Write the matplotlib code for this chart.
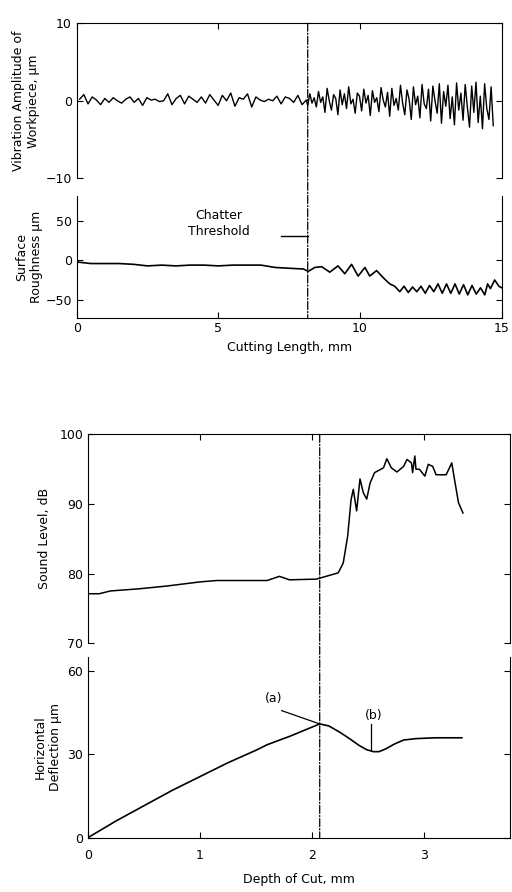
import numpy as np
import matplotlib.pyplot as plt
from matplotlib.patches import ConnectionPatch

plt.rcParams['font.family'] = ['DejaVu Sans']
plt.rcParams['font.size'] = 9

# ---- top pair: vibration amplitude and surface roughness vs cutting length ----
vib_pre = [0.2, 0.8, -0.4, 0.5, 0.1, -0.5, 0.3, -0.2, 0.4, 0.0, -0.3, 0.2, 0.5, -0.2,
           0.3, -0.6, 0.4, 0.1, 0.2, -0.1, 0.0, 0.9, -0.5, 0.3, 0.7, -0.4, 0.6, 0.2,
           -0.2, 0.5, -0.3, 0.8, 0.1, -0.6, 0.7, 0.0, 1.0, -0.7, 0.4, 0.2, 0.9, -0.8,
           0.5, 0.1, -0.1, 0.2, 0.0, 0.6, -0.4, 0.5, 0.3, -0.2, 0.7, -0.5, 0.1]
vib_post = [-0.6, 0.9, -0.3, 0.4, -0.8, 1.2, -0.2, 0.5, -1.5, 1.6, 0.0, -1.2, 0.8, 0.3,
            -1.8, 1.4, -0.5, 0.9, -1.0, 1.8, -0.4, 0.2, -1.6, 1.0, 0.6, -1.3, 1.5, -0.3,
            0.7, -1.9, 1.3, -0.2, 0.4, -1.4, 1.7, 0.1, -0.8, 1.1, -2.0, 1.6, -0.6, 0.3,
            -1.2, 2.0, -0.3, -1.8, 1.4, 0.2, -2.4, 1.8, -0.5, 0.6, -2.2, 2.1, -0.4, -1.0,
            1.5, -2.6, 1.9, 0.0, -1.6, 2.2, -2.9, 1.2, -0.7, 2.0, -2.3, 0.5, -3.1, 2.3,
            -1.2, 1.0, -2.5, 2.1, -0.8, -3.4, 1.9, -1.5, 2.4, -2.8, 0.6, -3.6, 2.2, -1.0,
            -2.4, 1.8, -3.2]
vib_x = np.concatenate([np.linspace(0.1, 8.1, len(vib_pre)),
                        np.linspace(8.15, 14.7, len(vib_post))])
vib_y = np.array(vib_pre + vib_post)

rough_x = [0.0, 0.5, 1.0, 1.5, 2.0, 2.5, 3.0, 3.5, 4.0, 4.5, 5.0, 5.5, 6.0, 6.5, 7.0,
           7.5, 8.0, 8.17, 8.4, 8.64, 8.93, 9.22, 9.46, 9.70, 9.93, 10.17, 10.34, 10.58,
           10.87, 11.05, 11.22, 11.4, 11.55, 11.7, 11.85, 12.0, 12.15, 12.3, 12.45,
           12.6, 12.75, 12.9, 13.05, 13.2, 13.35, 13.5, 13.65, 13.8, 13.95, 14.1,
           14.25, 14.4, 14.5, 14.6, 14.75, 14.9, 15.0]
rough_y = [-2, -4, -4, -4, -5, -7, -6, -7, -6, -6, -7, -6, -6, -6, -9,
           -10, -11, -14, -9, -8, -15, -7, -17, -5, -20, -9, -20, -13,
           -24, -30, -33, -40, -33, -41, -34, -40, -33, -42, -32,
           -40, -30, -42, -30, -42, -30, -43, -31, -44, -32, -43,
           -35, -44, -30, -36, -25, -33, -35]
chatter_len = 8.15

# ---- bottom pair: sound level and horizontal deflection vs depth of cut ----
sound_x = [0.0, 0.1, 0.2, 0.45, 0.7, 1.0, 1.15, 1.6, 1.71, 1.8, 2.04, 2.235, 2.28, 2.32,
           2.35, 2.37, 2.40, 2.43, 2.46, 2.49, 2.52, 2.56, 2.64, 2.67, 2.71, 2.76, 2.82,
           2.85, 2.89, 2.90, 2.92, 2.93, 2.96, 3.01, 3.04, 3.08, 3.11, 3.20, 3.25, 3.28,
           3.31, 3.35]
sound_y = [77.1, 77.1, 77.5, 77.8, 78.2, 78.8, 79.0, 79.0, 79.6, 79.1, 79.2, 80.1, 81.5,
           85.4, 90.6, 92.1, 89.0, 93.6, 91.6, 90.7, 93.0, 94.5, 95.2, 96.5, 95.2, 94.6,
           95.4, 96.4, 95.9, 94.5, 96.9, 95.0, 95.0, 94.0, 95.7, 95.4, 94.2, 94.2, 95.9,
           93.0, 90.2, 88.7]

defl_x = [0.0, 0.25, 0.5, 0.75, 1.0, 1.25, 1.5, 1.6, 1.8, 2.07, 2.15, 2.25, 2.34, 2.42,
          2.49, 2.55, 2.60, 2.66, 2.74, 2.82, 2.93, 3.1, 3.34]
defl_y = [0.0, 6.0, 11.5, 17.0, 22.0, 27.0, 31.5, 33.5, 36.5, 41.0, 40.3, 38.0, 35.6, 33.3,
          31.7, 31.0, 31.0, 32.0, 33.8, 35.2, 35.7, 36.0, 36.0]
chatter_depth = 2.07


def style(ax, top):
    ax.tick_params(direction='in', top=top, right=True, bottom=not top, length=4,
                   labelsize=9)
    ax.spines['bottom' if top else 'top'].set_visible(False)


fig = plt.figure(figsize=(5.12, 8.92), dpi=100)

ax1 = fig.add_axes([0.150, 0.800, 0.830, 0.174])
ax2 = fig.add_axes([0.150, 0.644, 0.830, 0.136])
ax3 = fig.add_axes([0.172, 0.279, 0.824, 0.234])
ax4 = fig.add_axes([0.172, 0.061, 0.824, 0.202])

ax1.plot(vib_x, vib_y, color='black', lw=1.0)
ax1.set_xlim(0, 15)
ax1.set_ylim(-10, 10)
ax1.set_yticks([-10, 0, 10])
ax1.set_xticks([0, 5, 10, 15])
ax1.set_xticklabels([])
ax1.set_ylabel('Vibration Amplitude of\nWorkpiece, μm', labelpad=4)
style(ax1, True)

ax2.plot(rough_x, rough_y, color='black', lw=1.2)
ax2.set_xlim(0, 15)
ax2.set_ylim(-73, 82)
ax2.set_yticks([-50, 0, 50])
ax2.set_xticks([0, 5, 10, 15])
ax2.set_xlabel('Cutting Length, mm')
ax2.set_ylabel('Surface\nRoughness μm', labelpad=2)
style(ax2, False)
ax2.text(5.0, 47, 'Chatter\nThreshold', ha='center', va='center', fontsize=9,
         linespacing=1.3)
ax2.plot([7.2, chatter_len], [31, 31], color='black', lw=1.0)

fig.add_artist(ConnectionPatch((chatter_len, 10), (chatter_len, -73), 'data', 'data',
                               axesA=ax1, axesB=ax2, color='black', lw=0.9,
                               linestyle='-.'))

ax3.plot(sound_x, sound_y, color='black', lw=1.1)
ax3.set_xlim(0, 3.77)
ax3.set_ylim(70, 100)
ax3.set_yticks([70, 80, 90, 100])
ax3.set_xticks([0, 1, 2, 3])
ax3.set_xticklabels([])
ax3.set_ylabel('Sound Level, dB', labelpad=6)
style(ax3, True)

ax4.plot(defl_x, defl_y, color='black', lw=1.2)
ax4.set_xlim(0, 3.77)
ax4.set_ylim(0, 65)
ax4.set_yticks([0, 30, 60])
ax4.set_xticks([0, 1, 2, 3])
ax4.tick_params(axis='x', pad=8)
ax4.set_xlabel('Depth of Cut, mm', labelpad=8)
ax4.set_ylabel('Horizontal\nDeflection μm', labelpad=4)
style(ax4, False)
ax4.text(1.66, 50, '(a)', ha='center', va='center', fontsize=9)
ax4.plot([1.73, chatter_depth], [45.8, 41.0], color='black', lw=0.9)
ax4.text(2.55, 44, '(b)', ha='center', va='center', fontsize=9)
ax4.plot([2.53, 2.53], [41, 31.5], color='black', lw=0.9)

fig.add_artist(ConnectionPatch((chatter_depth, 100), (chatter_depth, 0), 'data', 'data',
                               axesA=ax3, axesB=ax4, color='black', lw=0.9,
                               linestyle='-.'))

fig.savefig('out.png', dpi=100)
